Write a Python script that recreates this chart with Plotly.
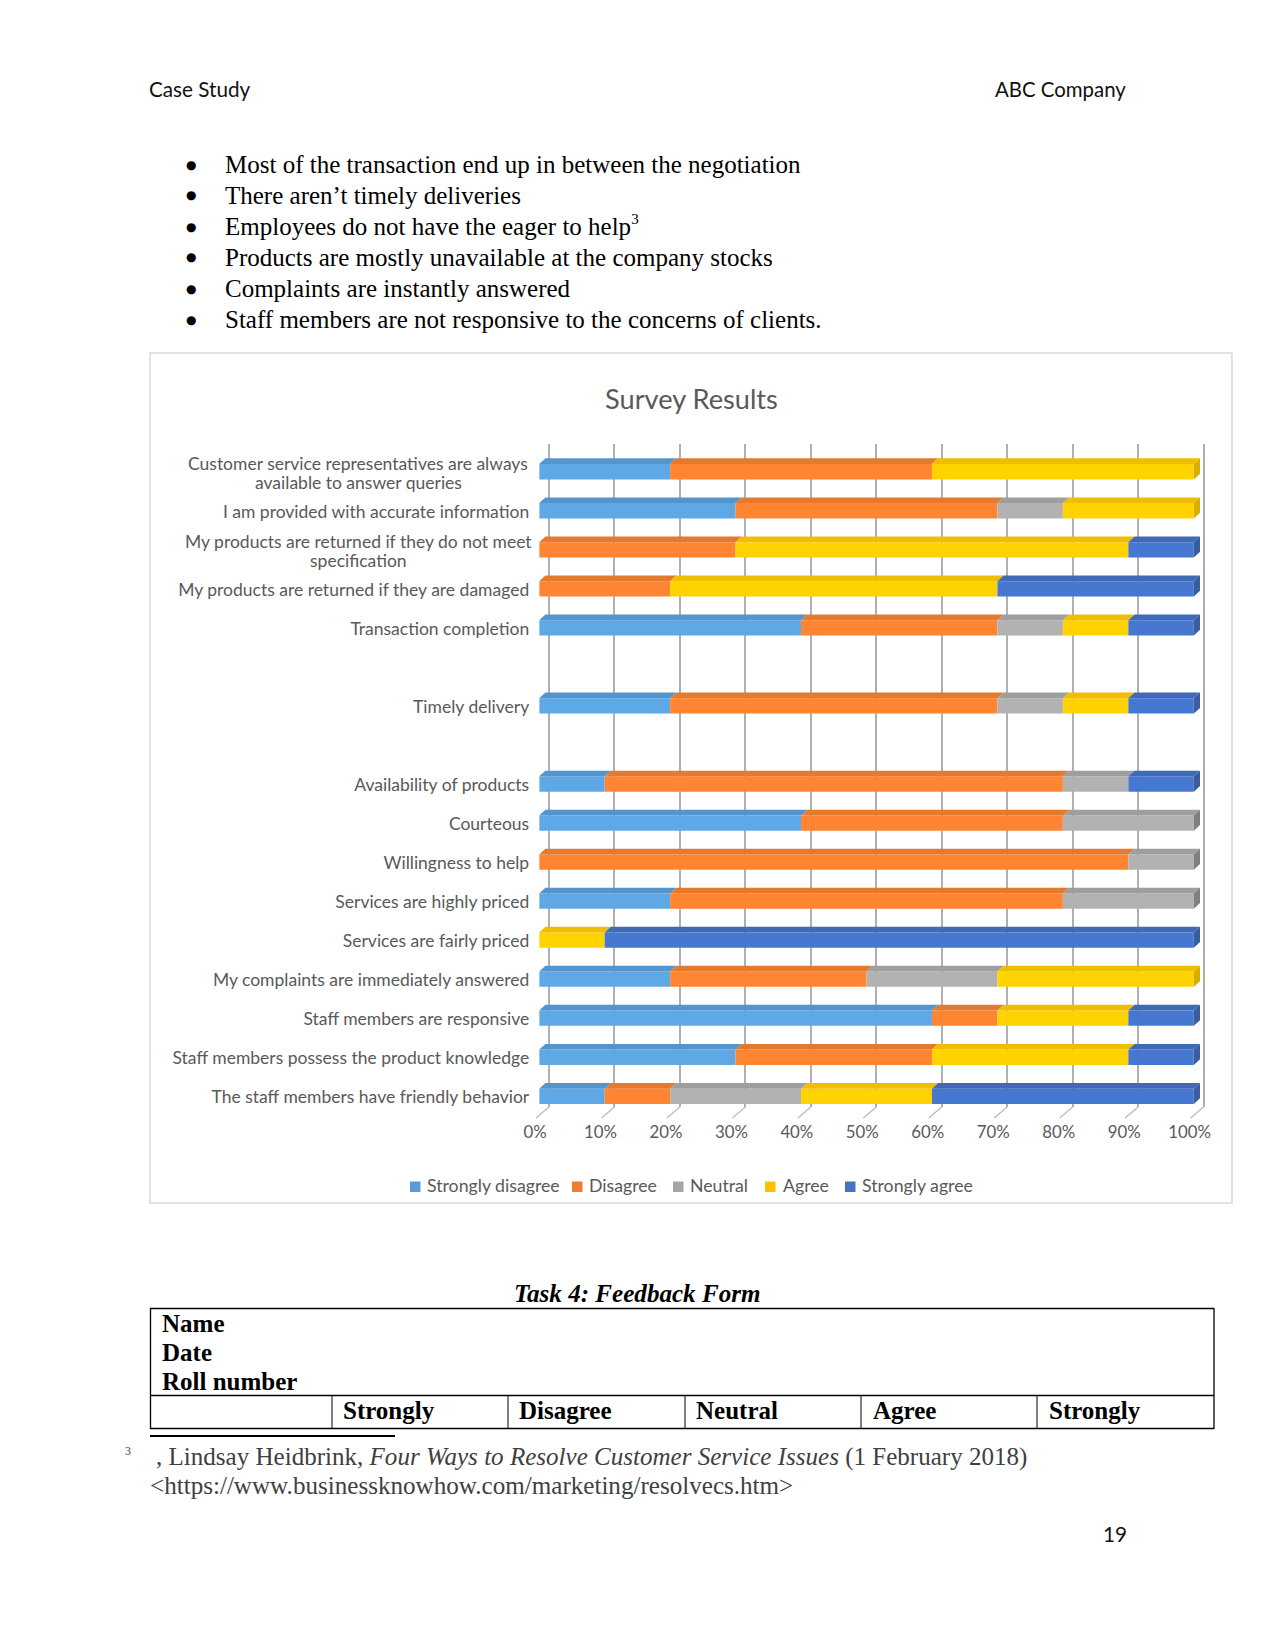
import numpy as np
import plotly.graph_objects as go

# ---------- data ----------
categories = [
    "Customer service representatives are always<br>available to answer queries",
    "I am provided with accurate information",
    "My products are returned if they do not meet<br>specification",
    "My products are returned if they are damaged",
    "Transaction completion",
    "",
    "Timely delivery",
    "",
    "Availability of products",
    "Courteous",
    "Willingness to help",
    "Services are highly priced",
    "Services are fairly priced",
    "My complaints are immediately answered",
    "Staff members are responsive",
    "Staff members possess the product knowledge",
    "The staff members have friendly behavior",
]
strongly_disagree = [20, 30, 0, 0, 40, 0, 20, 0, 10, 40, 0, 20, 0, 20, 60, 30, 10]
disagree          = [40, 40, 30, 20, 30, 0, 50, 0, 70, 40, 90, 60, 0, 30, 10, 30, 10]
neutral           = [0, 10, 0, 0, 10, 0, 10, 0, 10, 20, 10, 20, 0, 20, 0, 0, 20]
agree             = [40, 20, 60, 50, 10, 0, 10, 0, 0, 0, 0, 0, 10, 30, 20, 30, 20]
strongly_agree    = [0, 0, 10, 30, 10, 0, 10, 0, 10, 0, 0, 0, 90, 0, 10, 10, 40]
series_names = ["Strongly disagree", "Disagree", "Neutral", "Agree", "Strongly agree"]
front_colors = ["#5FA8E6", "#FF8533", "#B2B2B2", "#FFD200", "#4678D2"]
top_colors   = ["#5595CE", "#E57A2C", "#9E9E9E", "#F0BE00", "#4069B8"]
side_colors  = ["#44779F", "#B85F22", "#808080", "#D9AE00", "#3A5D9E"]
legend_colors = ["#5B9BD5", "#ED7D31", "#A5A5A5", "#FFC000", "#4472C4"]
x_ticks = list(range(0, 101, 10))

bullets = [
    "Most of the transaction end up in between the negotiation",
    "There aren\u2019t timely deliveries",
    "Employees do not have the eager to help<sup><span style=\"font-size:15px\">3</span></sup>",
    "Products are mostly unavailable at the company stocks",
    "Complaints are instantly answered",
    "Staff members are not responsive to the concerns of clients.",
]
table_rows = ["Name", "Date", "Roll number"]
table_head = ["Strongly", "Disagree", "Neutral", "Agree", "Strongly"]

# ---------- page geometry (browser body has 8px margin) ----------
OFF = 8
W, H = 1275 - 2 * OFF, 1650 - 2 * OFF
def fx(p): return (p - OFF) / W
def fy(p): return 1 - (p - OFF) / H

SERIF = "Liberation Serif"
SANS = "Lato"
GREY = "#595959"

values = np.array([strongly_disagree, disagree, neutral, agree, strongly_agree], dtype=float)
rows = np.arange(len(categories))
left = np.vstack([np.zeros(len(rows)), np.cumsum(values, axis=0)[:-1]])
BAR_H = 0.392
DEPTH = 0.146
SKEW = 0.95

fig = go.Figure()

# helper trace keeps the grid axes alive
fig.add_trace(go.Scatter(x=[0], y=[0], xaxis="x", yaxis="y", mode="markers",
                         marker=dict(opacity=0), showlegend=False, hoverinfo="skip"))

for s, name in enumerate(series_names):
    fig.add_trace(go.Bar(y=rows, x=values[s], base=left[s], orientation="h", width=BAR_H,
                         name=name, xaxis="x2", yaxis="y2", showlegend=False,
                         marker=dict(color=front_colors[s], line=dict(width=0))))

for s in range(len(series_names)):
    xs, ys, sx_, sy_ = [], [], [], []
    for r in rows:
        v = values[s][r]
        if v <= 0:
            continue
        a, b = left[s][r], left[s][r] + v
        t = r - BAR_H / 2
        xs += [a, a + SKEW, b + SKEW, b, a, None]
        ys += [t, t - DEPTH, t - DEPTH, t, t, None]
        if abs(b - 100) < 1e-6:
            sx_ += [b, b + SKEW, b + SKEW, b, b, None]
            sy_ += [t, t - DEPTH, t - DEPTH + BAR_H, t + BAR_H, t, None]
    fig.add_trace(go.Scatter(x=xs, y=ys, xaxis="x2", yaxis="y2", mode="lines", fill="toself",
                             fillcolor=top_colors[s], line=dict(width=0), showlegend=False,
                             hoverinfo="skip"))
    if sx_:
        fig.add_trace(go.Scatter(x=sx_, y=sy_, xaxis="x2", yaxis="y2", mode="lines", fill="toself",
                                 fillcolor=side_colors[s], line=dict(width=0), showlegend=False,
                                 hoverinfo="skip"))

shapes = []
def line(x0, y0, x1, y1, color="#000000", width=1):
    shapes.append(dict(type="line", xref="paper", yref="paper", x0=fx(x0), y0=fy(y0),
                       x1=fx(x1), y1=fy(y1), line=dict(color=color, width=width), layer="below"))

# chart frame
shapes.append(dict(type="rect", xref="paper", yref="paper", x0=fx(150), x1=fx(1232), y0=fy(353), y1=fy(1203),
                   line=dict(color="#D9D9D9", width=1.5), layer="below"))
# floor ticks
for t in x_ticks:
    shapes.append(dict(type="line", xref="x", yref="paper", x0=t, x1=t - 13 / 65.46 * 10,
                       y0=fy(1107), y1=fy(1118), line=dict(color="#BFBFBF", width=1.5), layer="below"))
# table
line(150, 1308.5, 1214, 1308.5, width=1.3)
line(150, 1395.5, 1214, 1395.5, width=1.3)
line(150, 1428.5, 1214, 1428.5, width=1.3)
line(150.5, 1308, 150.5, 1429, width=1.3)
line(1214, 1308, 1214, 1429, width=1.3)
for cx in [332, 508, 685, 861, 1037]:
    line(cx, 1395, cx, 1428, width=1)
line(150, 1436, 395, 1436, width=2)

ann = []
def text(x, y, s, size, font=SERIF, color="#000000", anchor="left", **kw):
    ann.append(dict(xref="paper", yref="paper", x=fx(x), y=fy(y), text=s, showarrow=False,
                    xanchor=anchor, yanchor="middle", font=dict(family=font, size=size, color=color),
                    align=kw.pop("align", anchor), borderpad=0, borderwidth=0, **kw))

text(149, 89, "Case Study", 20.7, SANS, "#111111")
text(1126, 89, "ABC Company", 20.4, SANS, "#111111", anchor="right")
for i, b in enumerate(bullets):
    y = 164.5 + i * 31
    text(191, y, "\u25CF", 12, "DejaVu Sans", anchor="center")
    text(225, y - (1 if "<sup>" in b else 0), b, 25)
text(691, 398, "Survey Results", 27.2, SANS, GREY, anchor="center")
text(637, 1293.5, "<b><i>Task 4: Feedback Form</i></b>", 25.1, anchor="center")
for i, r in enumerate(table_rows):
    text(162, 1323 + i * 29, f"<b>{r}</b>", 25)
for x, h in zip([343, 519, 696, 873, 1049], table_head):
    text(x, 1410, f"<b>{h}</b>", 25)
text(128, 1451, "3", 12, color="#404040", anchor="center")
text(156, 1457, ", Lindsay Heidbrink, <i>Four Ways to Resolve Customer Service Issues</i> (1 February 2018)", 25.05, color="#404040")
text(150, 1485, "&lt;https://www.businessknowhow.com/marketing/resolvecs.htm&gt;", 25.1, color="#404040")
text(1114.5, 1534, "19", 20.7, SANS, "#111111", anchor="center")

# legend
for name, col, sx, tx in zip(series_names, legend_colors, [410, 572, 673, 765, 845], [427, 589, 690, 783, 862]):
    shapes.append(dict(type="rect", xref="paper", yref="paper", x0=fx(sx), x1=fx(sx + 10.5), y0=fy(1192), y1=fy(1181.5),
                       fillcolor=col, line=dict(width=0), layer="below"))
    text(tx, 1185, name, 17.7, SANS, GREY)

# wrapped category labels: each line centred on a common axis, tight line spacing
for r, c in zip(rows, categories):
    if "<br>" in c:
        first, second = c.split("<br>")
        for part, dy in ((first, -0.22), (second, 0.265)):
            ann.append(dict(xref="paper", yref="y2", x=fx(358), y=r + dy, text=part, showarrow=False,
                            xanchor="center", yanchor="middle", align="center",
                            font=dict(family=SANS, size=17.5, color=GREY)))
tick_rows = [int(r) for r, c in zip(rows, categories) if c and "<br>" not in c]
tick_text = [categories[r] for r in tick_rows]

PX_PER = 65.46 / 10
fig.update_layout(
    width=W, height=H, margin=dict(l=0, r=0, t=0, b=0, autoexpand=False), autosize=False,
    paper_bgcolor="white", plot_bgcolor="rgba(0,0,0,0)", showlegend=False,
    barmode="overlay",
    shapes=shapes, annotations=ann,
    xaxis=dict(domain=[fx(549 - 2 * PX_PER), fx(1203.6 + 2 * PX_PER)], range=[-2, 102], tickvals=x_ticks,
               ticktext=[f"{t}%" for t in x_ticks], showgrid=True, gridcolor="#B0B0B0", gridwidth=2,
               zeroline=False, showline=False, ticks="", ticklabelshift=-14, ticklabelstandoff=13,
               tickfont=dict(family=SANS, size=16.8, color=GREY), anchor="y"),
    yaxis=dict(domain=[fy(1107), fy(444)], range=[0, 1], visible=False, anchor="x"),
    xaxis2=dict(domain=[fx(539.2), fx(539.2 + 102 * PX_PER)], range=[0, 102], visible=False, anchor="y2"),
    yaxis2=dict(domain=[fy(1108), fy(444.4)], range=[16.3, -0.7], tickmode="array",
                tickvals=[r + 0.02 for r in tick_rows],
                ticktext=tick_text, showgrid=False, zeroline=False, showline=False, ticks="",
                ticklabelstandoff=9, tickfont=dict(family=SANS, size=17.5, color=GREY), anchor="x2"),
)
fig.write_html("out.html")
